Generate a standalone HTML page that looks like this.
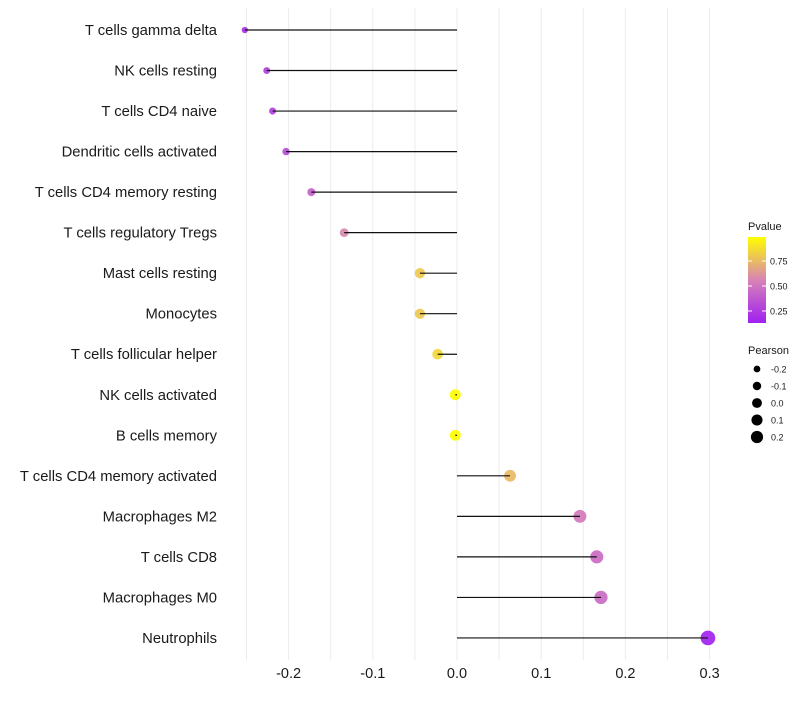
<!DOCTYPE html>
<html><head><meta charset="utf-8"><style>
body{margin:0;background:#fff;font-family:"Liberation Sans",sans-serif;}
svg text{font-family:"Liberation Sans",sans-serif;}
</style></head><body>
<svg id="chart" width="800" height="700" xmlns="http://www.w3.org/2000/svg">
<g id="grid"></g>
<g id="marks"></g>
<g id="ylabels"></g>
<g id="xlabels"></g>
<g id="legend"></g>
</svg>
<script>
const categories=["T cells gamma delta","NK cells resting","T cells CD4 naive","Dendritic cells activated","T cells CD4 memory resting","T cells regulatory  Tregs","Mast cells resting","Monocytes","T cells follicular helper","NK cells activated","B cells memory","T cells CD4 memory activated","Macrophages M2","T cells CD8","Macrophages M0","Neutrophils"];
const pearson=[-0.252,-0.226,-0.219,-0.203,-0.173,-0.134,-0.044,-0.044,-0.023,-0.002,-0.002,0.063,0.146,0.166,0.171,0.298];
const pvalue=[0.2,0.27,0.27,0.32,0.42,0.58,0.8,0.8,0.85,0.99,0.99,0.75,0.52,0.46,0.46,0.14];
const xTicks=[-0.2,-0.1,0.0,0.1,0.2,0.3];
const xTickLabels=["-0.2","-0.1","0.0","0.1","0.2","0.3"];
const legendSizes=[-0.2,-0.1,0.0,0.1,0.2];
const legendColorTicks=[0.25,0.5,0.75];

const NS="http://www.w3.org/2000/svg";
function el(t,a,p){const e=document.createElementNS(NS,t);for(const k in a)e.setAttribute(k,a[k]);p.appendChild(e);return e;}
const x=v=>457+v*842;
const y=i=>30+i*40.53;
function r(v){return Math.sqrt(Math.max(4,30+80*v));}
function lerp(a,b,t){return a.map((c,i)=>Math.round(c+(b[i]-c)*t));}
function col(p){const lo=[160,32,240],mid=[214,128,184],hi=[255,255,0];const pMin=0.13,pMax=0.99,pMid=0.55;
let c;if(p<=pMid)c=lerp(lo,mid,Math.max(0,(p-pMin)/(pMid-pMin)));else c=lerp(mid,hi,Math.min(1,(p-pMid)/(pMax-pMid)));return `rgb(${c})`;}

const grid=document.getElementById('grid');
for(let v=-0.25;v<=0.3001;v+=0.05){const g=el('line',{x1:x(v),x2:x(v),y1:8,y2:660,stroke:'#ebebeb','stroke-width':1},grid);
}
const marks=document.getElementById('marks'),yl=document.getElementById('ylabels'),xl=document.getElementById('xlabels');
categories.forEach((c,i)=>{
 const pt=el('circle',{cx:x(pearson[i]),cy:y(i),r:r(pearson[i]),fill:col(pvalue[i]),'fill-opacity':0.92},marks);
 
 const s=el('line',{x1:x(0),x2:x(pearson[i]),y1:y(i),y2:y(i),stroke:'#111','stroke-width':1.2},marks);
 
 const t=el('text',{x:217,y:y(i)+5,'text-anchor':'end','font-size':14.8,fill:'#1a1a1a','xml:space':'preserve'},yl);t.textContent=c+(c.endsWith('Tregs')?' ':'');
 
});
xTicks.forEach((v,i)=>{const t=el('text',{x:x(v),y:678,'text-anchor':'middle','font-size':14.5,fill:'#1a1a1a'},xl);t.textContent=xTickLabels[i];
});

const lg=document.getElementById('legend');
const defs=el('defs',{},lg);const gr=el('linearGradient',{id:'pg',x1:0,y1:1,x2:0,y2:0},defs);
for(let k=0;k<=10;k++){const p=0.13+k*0.086;el('stop',{offset:k/10,'stop-color':col(p)},gr);}
const lt=el('text',{x:748,y:230,'font-size':11,fill:'#1a1a1a'},lg);lt.textContent='Pvalue';

const bar=el('rect',{x:748,y:237,width:18,height:86,fill:'url(#pg)'},lg);

legendColorTicks.forEach(p=>{const yy=237+(0.99-p)/0.86*86;
 el('line',{x1:748,x2:752,y1:yy,y2:yy,stroke:'#fff'},lg);el('line',{x1:762,x2:766,y1:yy,y2:yy,stroke:'#fff'},lg);
 const t=el('text',{x:770,y:yy+3.5,'font-size':9,fill:'#1a1a1a'},lg);t.textContent=p.toFixed(2);
 });
const st=el('text',{x:748,y:354,'font-size':11,fill:'#1a1a1a'},lg);st.textContent='Pearson';

legendSizes.forEach((v,k)=>{const yy=369+k*17;
 const c=el('circle',{cx:757,cy:yy,r:r(v)*0.9,fill:'#000'},lg);
 const t=el('text',{x:771,y:yy+3.5,'font-size':9,fill:'#1a1a1a'},lg);t.textContent=v.toFixed(1);
 });
</script>
</body></html>
